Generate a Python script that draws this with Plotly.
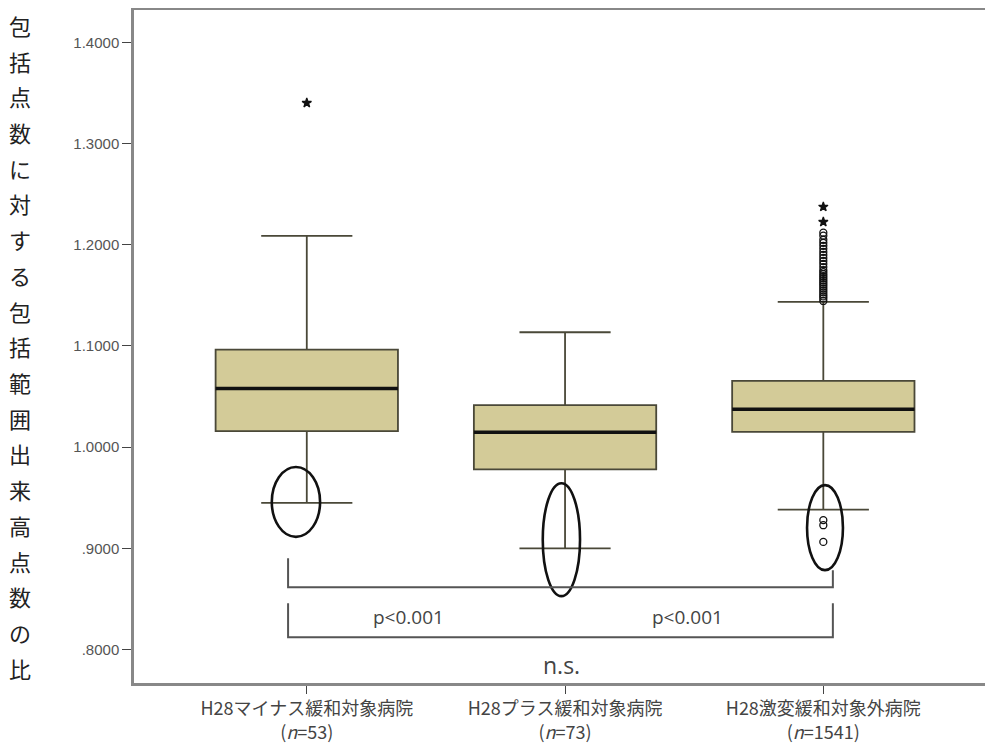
import plotly.graph_objects as go

# ---- data ----
groups = ["H28マイナス緩和対象病院", "H28プラス緩和対象病院", "H28激変緩和対象外病院"]
n_labels = ["53", "73", "1541"]
q1_vals = [1.0158, 0.9780, 1.0151]
median_vals = [1.0580, 1.0148, 1.0375]
q3_vals = [1.0965, 1.0415, 1.0655]
lower_whisker = [0.9450, 0.9000, 0.9384]
upper_whisker = [1.2088, 1.1136, 1.1436]

# outliers (circles = mild, stars = extreme)
g1_extreme = [1.3402]
g3_mild_upper = [1.1445, 1.147, 1.149, 1.151, 1.153, 1.155, 1.157, 1.159, 1.161, 1.163,
                 1.165, 1.167, 1.169, 1.171, 1.173, 1.175, 1.178, 1.181, 1.184, 1.187,
                 1.190, 1.193, 1.196, 1.199, 1.202, 1.205, 1.209, 1.212]
g3_extreme_upper = [1.2226, 1.2375]
g3_mild_lower = [0.9279, 0.9229, 0.9064]

y_ticks = [0.8, 0.9, 1.0, 1.1, 1.2, 1.3, 1.4]
y_ticktext = [".8000", ".9000", "1.0000", "1.1000", "1.2000", "1.3000", "1.4000"]
y_title = "包括点数に対する包括範囲出来高点数の比"

BOX_W = 0.706
FILL = "#d3cb98"
EDGE = "#4a4838"

fig = go.Figure()
for i in range(len(groups)):
    fig.add_trace(go.Box(
        x=[i], q1=[q1_vals[i]], median=[median_vals[i]], q3=[q3_vals[i]],
        lowerfence=[lower_whisker[i]], upperfence=[upper_whisker[i]],
        width=BOX_W, whiskerwidth=0.5, fillcolor=FILL,
        line=dict(color=EDGE, width=1.8), boxpoints=False, showlegend=False,
        hoverinfo="skip"))

def pts(xi, vals, symbol, size):
    fig.add_trace(go.Scatter(
        x=[xi] * len(vals), y=vals, mode="markers", showlegend=False,
        marker=dict(symbol=symbol, size=size, color="#111",
                    line=dict(color="#111", width=1.3))))

pts(0, g1_extreme, "star", 7)
pts(2, g3_mild_upper, "circle-open", 7)
pts(2, g3_extreme_upper, "star", 7)
pts(2, g3_mild_lower, "circle-open", 7)

shapes = []
# thick median lines
for i, m in enumerate(median_vals):
    shapes.append(dict(type="line", xref="x", yref="y", x0=i - BOX_W / 2, x1=i + BOX_W / 2,
                       y0=m, y1=m, line=dict(color="#111", width=3.5)))

# hand-drawn style annotation ellipses
ell = [(-0.1355, 0.0515, 0.9114, 0.9805),
       (0.9137, 1.058, 0.8528, 0.9644),
       (1.937, 2.076, 0.8785, 0.9625)]
for x0, x1, y0, y1 in ell:
    shapes.append(dict(type="circle", xref="x", yref="y", x0=x0, x1=x1, y0=y0, y1=y1,
                       line=dict(color="#111", width=2.6)))

# brackets
BR = dict(color="#555", width=2)
shapes.append(dict(type="path", xref="x", yref="y",
                   path="M -0.0724 0.8903 L -0.0724 0.8617 L 2.037 0.8617 L 2.037 0.8785",
                   line=BR))
shapes.append(dict(type="path", xref="x", yref="y",
                   path="M -0.0724 0.8458 L -0.0724 0.8123 L 2.037 0.8123 L 2.037 0.8458",
                   line=BR))

annotations = [
    dict(x=0.392, y=0.832, xref="x", yref="y", text="p&lt;0.001", showarrow=False,
         font=dict(family="Open Sans", size=19, color="#444")),
    dict(x=1.476, y=0.832, xref="x", yref="y", text="p&lt;0.001", showarrow=False,
         font=dict(family="Open Sans", size=19, color="#444")),
    dict(x=0.986, y=0.7846, xref="x", yref="y", text="n.s.", showarrow=False,
         font=dict(family="Open Sans", size=23, color="#444")),
]
# vertical y-axis title, one character per line
PLOT_TOP, PLOT_BOT = 2, 675   # within the figure div
for k, ch in enumerate(y_title):
    py = 25 + 35.7 * k - 8
    annotations.append(dict(xref="paper", yref="paper", x=0, xanchor="center",
                            yanchor="middle", xshift=-114,
                            y=(PLOT_BOT - py) / (PLOT_BOT - PLOT_TOP),
                            text=ch, showarrow=False,
                            font=dict(family="Noto Sans CJK JP", size=22, color="#222")))

x_ticktext = [f"{g}<br>(<i>n</i>={n})" for g, n in zip(groups, n_labels)]

fig.update_layout(
    width=985, height=737,
    margin=dict(l=126, r=0, t=2, b=62, autoexpand=False),
    paper_bgcolor="white", plot_bgcolor="white",
    shapes=shapes, annotations=annotations,
    xaxis=dict(range=[-0.669, 2.657], tickvals=[0, 1, 2], ticktext=x_ticktext,
               showgrid=False, zeroline=False, showline=True, mirror=True,
               linecolor="#888", linewidth=2.5, ticks="outside", ticklen=8,
               tickcolor="#444", tickwidth=1, automargin=False,
               tickfont=dict(family="Noto Sans CJK JP", size=18, color="#444")),
    yaxis=dict(range=[0.767, 1.432], tickvals=y_ticks, ticktext=y_ticktext,
               showgrid=False, zeroline=False, showline=True, mirror=False,
               linecolor="#888", linewidth=2.5, ticks="outside", ticklen=9,
               tickcolor="#444", tickwidth=1, automargin=False,
               tickfont=dict(family="Liberation Sans", size=15, color="#555")),
)

fig.write_html("out.html")
